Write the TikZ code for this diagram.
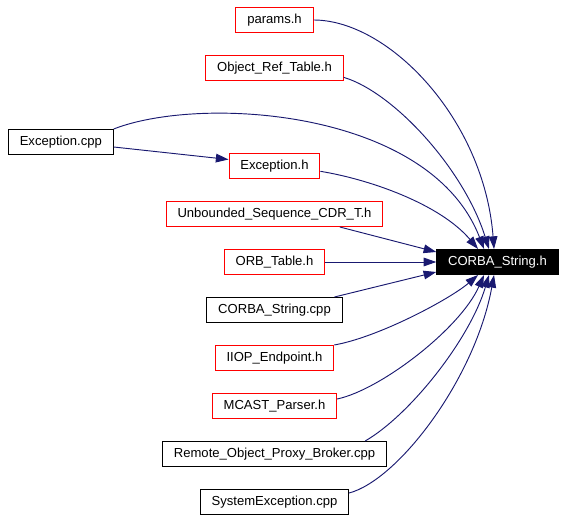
\documentclass[tikz,border=0pt]{standalone}
\usepackage{fontspec}
\setmainfont{Liberation Sans}
\usetikzlibrary{positioning, arrows.meta}
\definecolor{edgeblue}{RGB}{25,25,112}

\begin{document}
\begin{tikzpicture}[x=0.75pt, y=-0.75pt, node distance=36pt]
    \tikzstyle{block} = [rectangle,minimum height=18.75pt,inner xsep=8.5pt,text centered,draw=black,line width=0.75pt,fill=white,font=\fontsize{9.8}{11}\selectfont]
    \tikzstyle{redblock} = [block,draw=red]
    \tikzstyle{dep} = [draw=edgeblue,line width=0.7pt,-{Triangle[length=9.5pt,width=6.5pt]}]

    \useasboundingbox (0,0) rectangle (565,520);

    \node (params) [redblock] at (274.5,20) {params.h};
    \node (objref) [redblock, below of=params] {Object\_Ref\_Table.h};
    \node (excpp) [block] at (60.8,142) {Exception.cpp};
    \node (exh) [redblock, below of=objref, node distance=73.5pt] {Exception.h};
    \node (unb) [redblock, below of=exh] {Unbounded\_Sequence\_CDR\_T.h};
    \node (orb) [redblock, below of=unb] {ORB\_Table.h};
    \node (cscpp) [block, below of=orb] {CORBA\_String.cpp};
    \node (iiop) [redblock, below of=cscpp] {IIOP\_Endpoint.h};
    \node (mcast) [redblock, below of=iiop] {MCAST\_Parser.h};
    \node (remote) [block, below of=mcast] {Remote\_Object\_Proxy\_Broker.cpp};
    \node (sysexc) [block, below of=remote] {SystemException.cpp};

    \node (cs) [block, fill=black, text=white, right of=orb, node distance=167.25pt] {CORBA\_String.h};

    \draw [dep] (excpp.north east) .. controls +(87,-34) and +(-54,-140) .. ([xshift=-10.1pt]cs.north);
    \draw [dep] ([yshift=-3.75pt]excpp.east) -- ([yshift=4.9pt]exh.west);

    \draw [dep] (params.east) .. controls +(75,0) and +(-10,-130) .. ([xshift=-2.6pt]cs.north);
    \draw [dep] ([yshift=-7pt]objref.east) .. controls +(50,15) and +(-25,-80) .. ([xshift=-6.4pt]cs.north);
    \draw [dep] ([yshift=-4pt]exh.east) .. controls +(49,8) and +(-38,-45) .. ([xshift=-14.6pt]cs.north);
    \draw [dep] ([xshift=49pt]unb.south) -- ([yshift=7.5pt]cs.west);
    \draw [dep] (orb.east) -- (cs.west);
    \draw [dep] ([xshift=45pt]cscpp.north) -- ([yshift=-7.5pt]cs.west);
    \draw [dep] (iiop.north east) .. controls +(45,-8) and +(-28,24) .. ([xshift=-14.6pt]cs.south);
    \draw [dep] ([yshift=5.25pt]mcast.east) .. controls +(43,-9) and +(-24,54) .. ([xshift=-10.1pt]cs.south);
    \draw [dep] ([xshift=68pt]remote.north) .. controls +(45,-26) and +(-19,64) .. ([xshift=-6.4pt]cs.south);
    \draw [dep] ([yshift=6.75pt]sysexc.east) .. controls +(49,-13) and +(-19,104) .. ([xshift=-2.6pt]cs.south);
\end{tikzpicture}
\end{document}
